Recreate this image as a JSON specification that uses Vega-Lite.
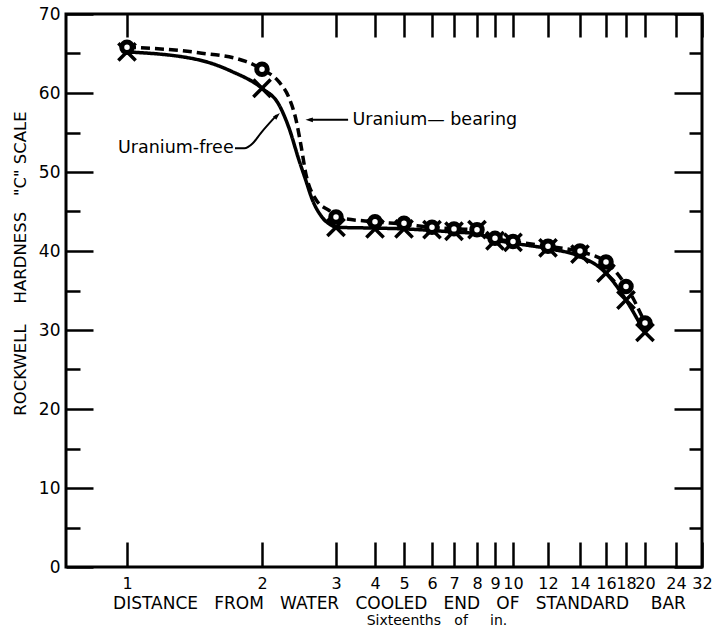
{
  "$schema": "https://vega.github.io/schema/vega-lite/v6.json",
  "width": 636,
  "height": 553,
  "autosize": "none",
  "padding": {"left": 66, "top": 14, "right": 21, "bottom": 66},
  "background": "white",
  "config": {
    "view": {"stroke": "black", "strokeWidth": 3},
    "font": "DejaVu Sans",
    "axis": {"grid": false, "domain": false, "tickColor": "black", "tickWidth": 2.5, "labelColor": "black", "titleColor": "black", "labelFont": "DejaVu Sans", "titleFont": "DejaVu Sans", "titleFontWeight": "normal"}
  },
  "title": {"text": "Sixteenths\u00a0\u00a0\u00a0of\u00a0\u00a0\u00a0\u00a0\u00a0in.", "orient": "bottom", "anchor": "middle", "frame": "group", "dx": 53, "offset": 3, "fontSize": 14, "fontWeight": "normal", "font": "DejaVu Sans", "color": "black", "baseline": "top"},
  "datasets": {
    "curve": [
      {"series": "Uranium-free", "d": 1, "h": 65.2},
      {"series": "Uranium-free", "d": 1.53, "h": 64.2},
      {"series": "Uranium-free", "d": 1.78, "h": 62.7},
      {"series": "Uranium-free", "d": 2, "h": 60.6},
      {"series": "Uranium-free", "d": 2.23, "h": 58.5},
      {"series": "Uranium-free", "d": 2.36, "h": 55.7},
      {"series": "Uranium-free", "d": 2.5, "h": 51.5},
      {"series": "Uranium-free", "d": 2.59, "h": 49},
      {"series": "Uranium-free", "d": 2.68, "h": 46.5},
      {"series": "Uranium-free", "d": 2.81, "h": 44.3},
      {"series": "Uranium-free", "d": 2.95, "h": 43.2},
      {"series": "Uranium-free", "d": 3, "h": 43},
      {"series": "Uranium-free", "d": 4, "h": 42.9},
      {"series": "Uranium-free", "d": 5, "h": 42.8},
      {"series": "Uranium-free", "d": 6, "h": 42.6},
      {"series": "Uranium-free", "d": 7, "h": 42.4},
      {"series": "Uranium-free", "d": 8, "h": 42.2},
      {"series": "Uranium-free", "d": 9, "h": 41.4},
      {"series": "Uranium-free", "d": 10, "h": 41},
      {"series": "Uranium-free", "d": 12, "h": 40.3},
      {"series": "Uranium-free", "d": 14, "h": 39.3},
      {"series": "Uranium-free", "d": 16, "h": 37.2},
      {"series": "Uranium-free", "d": 18, "h": 33.8},
      {"series": "Uranium-free", "d": 20, "h": 29.6},
      {"series": "Uranium-bearing", "d": 1, "h": 65.8},
      {"series": "Uranium-bearing", "d": 1.53, "h": 65.1},
      {"series": "Uranium-bearing", "d": 1.88, "h": 64},
      {"series": "Uranium-bearing", "d": 2, "h": 63},
      {"series": "Uranium-bearing", "d": 2.23, "h": 61.4},
      {"series": "Uranium-bearing", "d": 2.36, "h": 59.5},
      {"series": "Uranium-bearing", "d": 2.46, "h": 56.6},
      {"series": "Uranium-bearing", "d": 2.53, "h": 53.2},
      {"series": "Uranium-bearing", "d": 2.59, "h": 49.9},
      {"series": "Uranium-bearing", "d": 2.73, "h": 46.5},
      {"series": "Uranium-bearing", "d": 2.95, "h": 44.8},
      {"series": "Uranium-bearing", "d": 3, "h": 44.3},
      {"series": "Uranium-bearing", "d": 4, "h": 43.7},
      {"series": "Uranium-bearing", "d": 5, "h": 43.4},
      {"series": "Uranium-bearing", "d": 6, "h": 43},
      {"series": "Uranium-bearing", "d": 7, "h": 42.8},
      {"series": "Uranium-bearing", "d": 8, "h": 42.7},
      {"series": "Uranium-bearing", "d": 9, "h": 41.6},
      {"series": "Uranium-bearing", "d": 10, "h": 41.2},
      {"series": "Uranium-bearing", "d": 12, "h": 40.6},
      {"series": "Uranium-bearing", "d": 14, "h": 39.9},
      {"series": "Uranium-bearing", "d": 16, "h": 38.6},
      {"series": "Uranium-bearing", "d": 18, "h": 35.6},
      {"series": "Uranium-bearing", "d": 20, "h": 30.9}
    ],
    "pts": [
      {"series": "Uranium-free", "d": 1, "h": 65.2},
      {"series": "Uranium-free", "d": 2, "h": 60.6},
      {"series": "Uranium-free", "d": 3, "h": 43},
      {"series": "Uranium-free", "d": 4, "h": 42.8},
      {"series": "Uranium-free", "d": 5, "h": 42.8},
      {"series": "Uranium-free", "d": 6, "h": 42.7},
      {"series": "Uranium-free", "d": 7, "h": 42.5},
      {"series": "Uranium-free", "d": 8, "h": 42.7},
      {"series": "Uranium-free", "d": 9, "h": 41.3},
      {"series": "Uranium-free", "d": 10, "h": 41.1},
      {"series": "Uranium-free", "d": 12, "h": 40.4},
      {"series": "Uranium-free", "d": 14, "h": 39.6},
      {"series": "Uranium-free", "d": 16, "h": 37.2},
      {"series": "Uranium-free", "d": 18, "h": 33.8},
      {"series": "Uranium-free", "d": 20, "h": 29.7},
      {"series": "Uranium-bearing", "d": 1, "h": 65.8},
      {"series": "Uranium-bearing", "d": 2, "h": 63},
      {"series": "Uranium-bearing", "d": 3, "h": 44.3},
      {"series": "Uranium-bearing", "d": 4, "h": 43.7},
      {"series": "Uranium-bearing", "d": 5, "h": 43.5},
      {"series": "Uranium-bearing", "d": 6, "h": 43},
      {"series": "Uranium-bearing", "d": 7, "h": 42.8},
      {"series": "Uranium-bearing", "d": 8, "h": 42.7},
      {"series": "Uranium-bearing", "d": 9, "h": 41.6},
      {"series": "Uranium-bearing", "d": 10, "h": 41.2},
      {"series": "Uranium-bearing", "d": 12, "h": 40.6},
      {"series": "Uranium-bearing", "d": 14, "h": 40},
      {"series": "Uranium-bearing", "d": 16, "h": 38.6},
      {"series": "Uranium-bearing", "d": 18, "h": 35.5},
      {"series": "Uranium-bearing", "d": 20, "h": 30.9}
    ],
    "arrows": [
      {"arrow": "free", "d": 1.8, "h": 53.0},
      {"arrow": "free", "d": 1.87, "h": 53.0},
      {"arrow": "free", "d": 1.93, "h": 53.6},
      {"arrow": "free", "d": 1.99, "h": 54.9},
      {"arrow": "free", "d": 2.2, "h": 57.2},
      {"arrow": "bearing", "d": 3.31, "h": 56.6},
      {"arrow": "bearing", "d": 2.64, "h": 56.6}
    ],
    "heads": [
      {"arrow": "free", "d": 2.19, "h": 57.0, "dir": "up-right"},
      {"arrow": "bearing", "d": 2.66, "h": 56.6, "dir": "left"}
    ],
    "notes": [
      {"label": "Uranium-free", "d": 1.79, "h": 53.0, "side": "right"},
      {"label": "Uranium\u2014 bearing", "d": 3.42, "h": 56.6, "side": "left"}
    ]
  },
  "resolve": {"axis": {"x": "independent", "y": "independent"}},
  "layer": [
    {
      "data": {"name": "curve"},
      "mark": {"type": "line", "interpolate": "monotone", "color": "black", "strokeWidth": 3.5},
      "encoding": {
        "x": {"field": "d", "type": "quantitative",
          "scale": {"type": "linear", "domain": [0,1,2,3,4,5,6,7,8,9,10,12,14,16,18,20,24,32], "range": [0,61,196,270,309,338,366,388,411,429,447,482,514,540,560,579,610,636], "nice": false, "zero": false},
          "axis": {"orient": "bottom", "values": [1,2,3,4,5,6,7,8,9,10,12,14,16,18,20,24,32], "tickSize": -25, "labelPadding": 41, "labelFontSize": 16, "labelBaseline": "middle", "labelFlush": false, "labelOverlap": false,
            "title": "DISTANCE\u00a0\u00a0\u00a0FROM\u00a0\u00a0\u00a0WATER\u00a0\u00a0\u00a0COOLED\u00a0\u00a0\u00a0END\u00a0\u00a0\u00a0OF\u00a0\u00a0\u00a0STANDARD\u00a0\u00a0\u00a0\u00a0BAR", "titleFontSize": 17, "titleX": 333, "titleY": 36, "titleBaseline": "middle", "titleAnchor": null}},
        "y": {"field": "h", "type": "quantitative",
          "scale": {"domain": [0, 70], "nice": false, "zero": true},
          "axis": {"orient": "left", "values": [0,5,10,15,20,25,30,35,40,45,50,55,60,65,70],
            "tickSize": {"condition": {"test": "datum.value % 10 === 0", "value": -27}, "value": -14},
            "labelExpr": "datum.value % 10 === 0 ? datum.label : ''", "labelPadding": 33, "labelFontSize": 17, "labelFlush": false, "labelOverlap": false,
            "title": "ROCKWELL\u00a0\u00a0\u00a0\u00a0HARDNESS\u00a0\u00a0\u00a0\"C\"\u00a0SCALE", "titleFontSize": 16.5, "titleX": -46, "titleY": 249, "titleAngle": -90, "titleAlign": "center", "titleBaseline": "middle", "titleAnchor": null}},
        "strokeDash": {"field": "series", "type": "nominal", "scale": {"domain": ["Uranium-bearing", "Uranium-free"], "range": [[9, 5], [1, 0]]}, "legend": null}
      }
    },
    {
      "data": {"name": "pts"},
      "transform": [{"filter": "datum.series === 'Uranium-free'"}],
      "mark": {"type": "point", "shape": "M-1,-1L1,1M-1,1L1,-1", "size": 300, "stroke": "black", "strokeWidth": 3.5, "filled": false, "opacity": 1},
      "encoding": {
        "x": {"field": "d", "type": "quantitative", "scale": {"type": "linear", "domain": [0,1,2,3,4,5,6,7,8,9,10,12,14,16,18,20,24,32], "range": [0,61,196,270,309,338,366,388,411,429,447,482,514,540,560,579,610,636], "nice": false, "zero": false}, "axis": null},
        "y": {"field": "h", "type": "quantitative", "scale": {"domain": [0, 70], "nice": false, "zero": true}, "axis": null}
      }
    },
    {
      "data": {"name": "pts"},
      "transform": [{"filter": "datum.series === 'Uranium-bearing'"}],
      "mark": {"type": "point", "shape": "circle", "size": 110, "stroke": "black", "strokeWidth": 5, "fill": "white", "filled": false, "opacity": 1, "fillOpacity": 1},
      "encoding": {
        "x": {"field": "d", "type": "quantitative", "scale": {"type": "linear", "domain": [0,1,2,3,4,5,6,7,8,9,10,12,14,16,18,20,24,32], "range": [0,61,196,270,309,338,366,388,411,429,447,482,514,540,560,579,610,636], "nice": false, "zero": false},
          "axis": {"orient": "top", "values": [1,2,3,4,5,6,7,8,9,10,12,14,16,18,20,24,32], "tickSize": -23, "labels": false, "title": null}},
        "y": {"field": "h", "type": "quantitative", "scale": {"domain": [0, 70], "nice": false, "zero": true},
          "axis": {"orient": "right", "values": [0,5,10,15,20,25,30,35,40,45,50,55,60,65,70],
            "tickSize": {"condition": {"test": "datum.value % 10 === 0", "value": -28}, "value": -13}, "labels": false, "title": null}}
      }
    },
    {
      "data": {"name": "arrows"},
      "mark": {"type": "line", "interpolate": "monotone", "color": "black", "strokeWidth": 2},
      "encoding": {
        "x": {"field": "d", "type": "quantitative", "scale": {"type": "linear", "domain": [0,1,2,3,4,5,6,7,8,9,10,12,14,16,18,20,24,32], "range": [0,61,196,270,309,338,366,388,411,429,447,482,514,540,560,579,610,636], "nice": false, "zero": false}, "axis": null},
        "y": {"field": "h", "type": "quantitative", "scale": {"domain": [0, 70], "nice": false, "zero": true}, "axis": null},
        "detail": {"field": "arrow", "type": "nominal"}
      }
    },
    {
      "data": {"name": "heads"},
      "mark": {"type": "point", "filled": true, "color": "black", "size": 45, "opacity": 1},
      "encoding": {
        "x": {"field": "d", "type": "quantitative", "scale": {"type": "linear", "domain": [0,1,2,3,4,5,6,7,8,9,10,12,14,16,18,20,24,32], "range": [0,61,196,270,309,338,366,388,411,429,447,482,514,540,560,579,610,636], "nice": false, "zero": false}, "axis": null},
        "y": {"field": "h", "type": "quantitative", "scale": {"domain": [0, 70], "nice": false, "zero": true}, "axis": null},
        "shape": {"field": "dir", "type": "nominal", "scale": {"domain": ["up-right", "left"], "range": ["M0,-1.6L0.7,0.6L-0.7,0.6Z", "M-1.6,0L0.6,-0.7L0.6,0.7Z"]}, "legend": null},
        "angle": {"field": "dir", "type": "nominal", "scale": {"domain": ["up-right", "left"], "range": [45, 0]}, "legend": null}
      }
    },
    {
      "data": {"name": "notes"},
      "transform": [{"filter": "datum.side === 'right'"}],
      "mark": {"type": "text", "fontSize": 17.5, "font": "DejaVu Sans", "color": "black", "baseline": "middle", "align": "right"},
      "encoding": {
        "x": {"field": "d", "type": "quantitative", "scale": {"type": "linear", "domain": [0,1,2,3,4,5,6,7,8,9,10,12,14,16,18,20,24,32], "range": [0,61,196,270,309,338,366,388,411,429,447,482,514,540,560,579,610,636], "nice": false, "zero": false}, "axis": null},
        "y": {"field": "h", "type": "quantitative", "scale": {"domain": [0, 70], "nice": false, "zero": true}, "axis": null},
        "text": {"field": "label", "type": "nominal"}
      }
    },
    {
      "data": {"name": "notes"},
      "transform": [{"filter": "datum.side === 'left'"}],
      "mark": {"type": "text", "fontSize": 17.5, "font": "DejaVu Sans", "color": "black", "baseline": "middle", "align": "left"},
      "encoding": {
        "x": {"field": "d", "type": "quantitative", "scale": {"type": "linear", "domain": [0,1,2,3,4,5,6,7,8,9,10,12,14,16,18,20,24,32], "range": [0,61,196,270,309,338,366,388,411,429,447,482,514,540,560,579,610,636], "nice": false, "zero": false}, "axis": null},
        "y": {"field": "h", "type": "quantitative", "scale": {"domain": [0, 70], "nice": false, "zero": true}, "axis": null},
        "text": {"field": "label", "type": "nominal"}
      }
    }
  ]
}
